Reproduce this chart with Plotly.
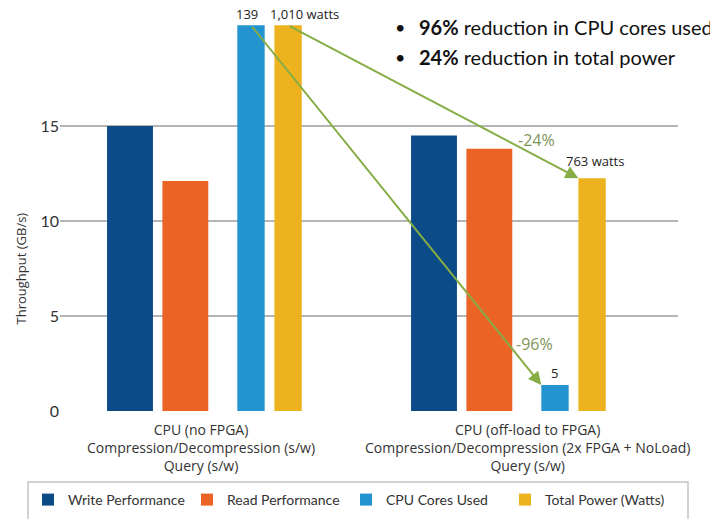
import plotly.graph_objects as go

# ---------------- data ----------------
categories = [
    "CPU (no FPGA)<br>Compression/Decompression (s/w)<br>Query (s/w)",
    "CPU (off-load to FPGA)<br>Compression/Decompression (2x FPGA + NoLoad)<br>Query (s/w)",
]
series_names = ["Write Performance", "Read Performance", "CPU Cores Used", "Total Power (Watts)"]
write_perf = [15.0, 14.5]
read_perf = [12.1, 13.8]
cpu_cores = [20.3, 1.37]
total_power = [20.3, 12.25]
cores_labels = ["139", "5"]
power_labels = ["1,010 watts", "763 watts"]
change_labels = ["-96%", "-24%"]
bullet_bold = ["96%", "24%"]
bullet_rest = [" reduction in CPU cores used", " reduction in total power"]
y_ticks = [0, 5, 10, 15]

# ---------------- layout constants ----------------
FONT = "Lato"
FONT2 = "Open Sans"
TXT = "#333333"
GREEN = "#86ad45"
colors = ["#0b4b87", "#ec6326", "#2394cf", "#ecb31f"]
groups = [0, 1]
offsets = [0.0, 0.182, 0.398, 0.520]
widths = [0.151, 0.151, 0.090, 0.090]
cat_label_x = [0.234, 1.309]

fig = go.Figure()
values = [write_perf, read_perf, cpu_cores, total_power]
xs = []
for name, vals, off, w, c in zip(series_names, values, offsets, widths, colors):
    x = [g + off for g in groups]
    xs.append(x)
    fig.add_bar(x=x, y=vals, width=w, name=name, marker=dict(color=c, line=dict(width=0)),
                hoverinfo="skip")

annotations = []
# value labels on cores bars
for i, (xv, yv, t) in enumerate(zip(xs[2], cpu_cores, cores_labels)):
    annotations.append(dict(x=xv, y=yv, text=t, showarrow=False, xanchor="center",
                            xshift=[-4, 0][i], yanchor="bottom", yshift=[0, 1][i],
                            font=dict(family=FONT2, size=13, color="#222")))
# value labels on power bars
for i, (xv, yv, t) in enumerate(zip(xs[3], total_power, power_labels)):
    anchor = ["left", "center"][i]
    xx = xv - widths[3] / 2 if anchor == "left" else xv
    annotations.append(dict(x=xx, y=yv, text=t, showarrow=False, xanchor=anchor,
                            xshift=[-6, 3][i], yanchor="bottom", yshift=[0, 6][i],
                            font=dict(family=FONT2, size=13, color="#222")))

# arrows: from group-1 bar top centre to group-2 bar top-left corner
for k, (si, vals) in enumerate([(2, cpu_cores), (3, total_power)]):
    tail_x, tail_y = xs[si][0], vals[0]
    head_x, head_y = xs[si][1] - widths[si] / 2, vals[1]
    annotations.append(dict(x=head_x, y=head_y, ax=tail_x, ay=tail_y, axref="x", ayref="y",
                            xref="x", yref="y", text="", showarrow=True, arrowhead=2,
                            arrowsize=1.3, arrowwidth=2, arrowcolor=GREEN, standoff=0))
    lab_shift = [(-7, 41), (-42, 38)][k]
    annotations.append(dict(x=head_x, y=head_y, text=change_labels[k], showarrow=False,
                            xshift=lab_shift[0], yshift=lab_shift[1],
                            font=dict(family=FONT2, size=16, color="#7d9557")))

# bullet text top right
for j, (b, r) in enumerate(zip(bullet_bold, bullet_rest)):
    ypix = [27, 57][j]
    annotations.append(dict(xref="paper", yref="paper", x=(400 - 60) / 618, y=(411 - ypix) / 399,
                            text="•", showarrow=False, xanchor="center", yanchor="middle",
                            font=dict(family=FONT, size=18, color="#111")))
    annotations.append(dict(xref="paper", yref="paper", x=(417 - 60) / 618, y=(411 - ypix) / 399,
                            text=f"<b>{b}</b>{r}", showarrow=False, xanchor="left",
                            yanchor="middle",
                            font=dict(family=FONT, size=20, color="#111")))

# y axis title
annotations.append(dict(xref="paper", yref="y", x=(20 - 60) / 618, y=7.5,
                        text="Throughput (GB/s)", textangle=-90, showarrow=False,
                        xanchor="center", yanchor="middle",
                        font=dict(family=FONT2, size=13, color=TXT)))

# category labels
for xv, t in zip(cat_label_x, categories):
    annotations.append(dict(xref="x", yref="paper", x=xv, y=0, text=t, showarrow=False,
                            xanchor="center", yanchor="top", yshift=-7,
                            font=dict(family=FONT2, size=14, color=TXT)))

fig.update_layout(
    width=710, height=519,
    margin=dict(l=60, r=32, t=12, b=108, autoexpand=False),
    paper_bgcolor="white", plot_bgcolor="white",
    barmode="overlay",
    font=dict(family=FONT, color=TXT),
    showlegend=True,
    legend=dict(orientation="h", xref="paper", yref="paper",
                x=(28 - 60) / 618, y=(411 - 484) / 399, xanchor="left", yanchor="top",
                font=dict(family=FONT, size=14, color=TXT),
                entrywidth=114, entrywidthmode="pixels",
                bgcolor="rgba(0,0,0,0)", borderwidth=0, itemclick=False,
                traceorder="normal"),
    annotations=annotations,
    shapes=[dict(type="rect", xref="paper", yref="paper",
                 x0=(28 - 60) / 618, x1=(688 - 60) / 618,
                 y0=(411 - 540) / 399, y1=(411 - 482) / 399,
                 line=dict(color="#c4c4c4", width=1.5), fillcolor="rgba(0,0,0,0)")],
    xaxis=dict(range=[(60 - 130) / 304, (678 - 130) / 304], showticklabels=False,
               showgrid=False, zeroline=False, showline=False, ticks=""),
    yaxis=dict(range=[0, 21], tickvals=y_ticks, showgrid=True, gridcolor="#b5b5b5",
               gridwidth=1.5, zeroline=False, showline=False, ticks="",
               tickfont=dict(family=FONT, size=16, color=TXT)),
)

fig.write_html("out.html", config={"displayModeBar": False},
               post_script="document.body.style.margin='0';")
